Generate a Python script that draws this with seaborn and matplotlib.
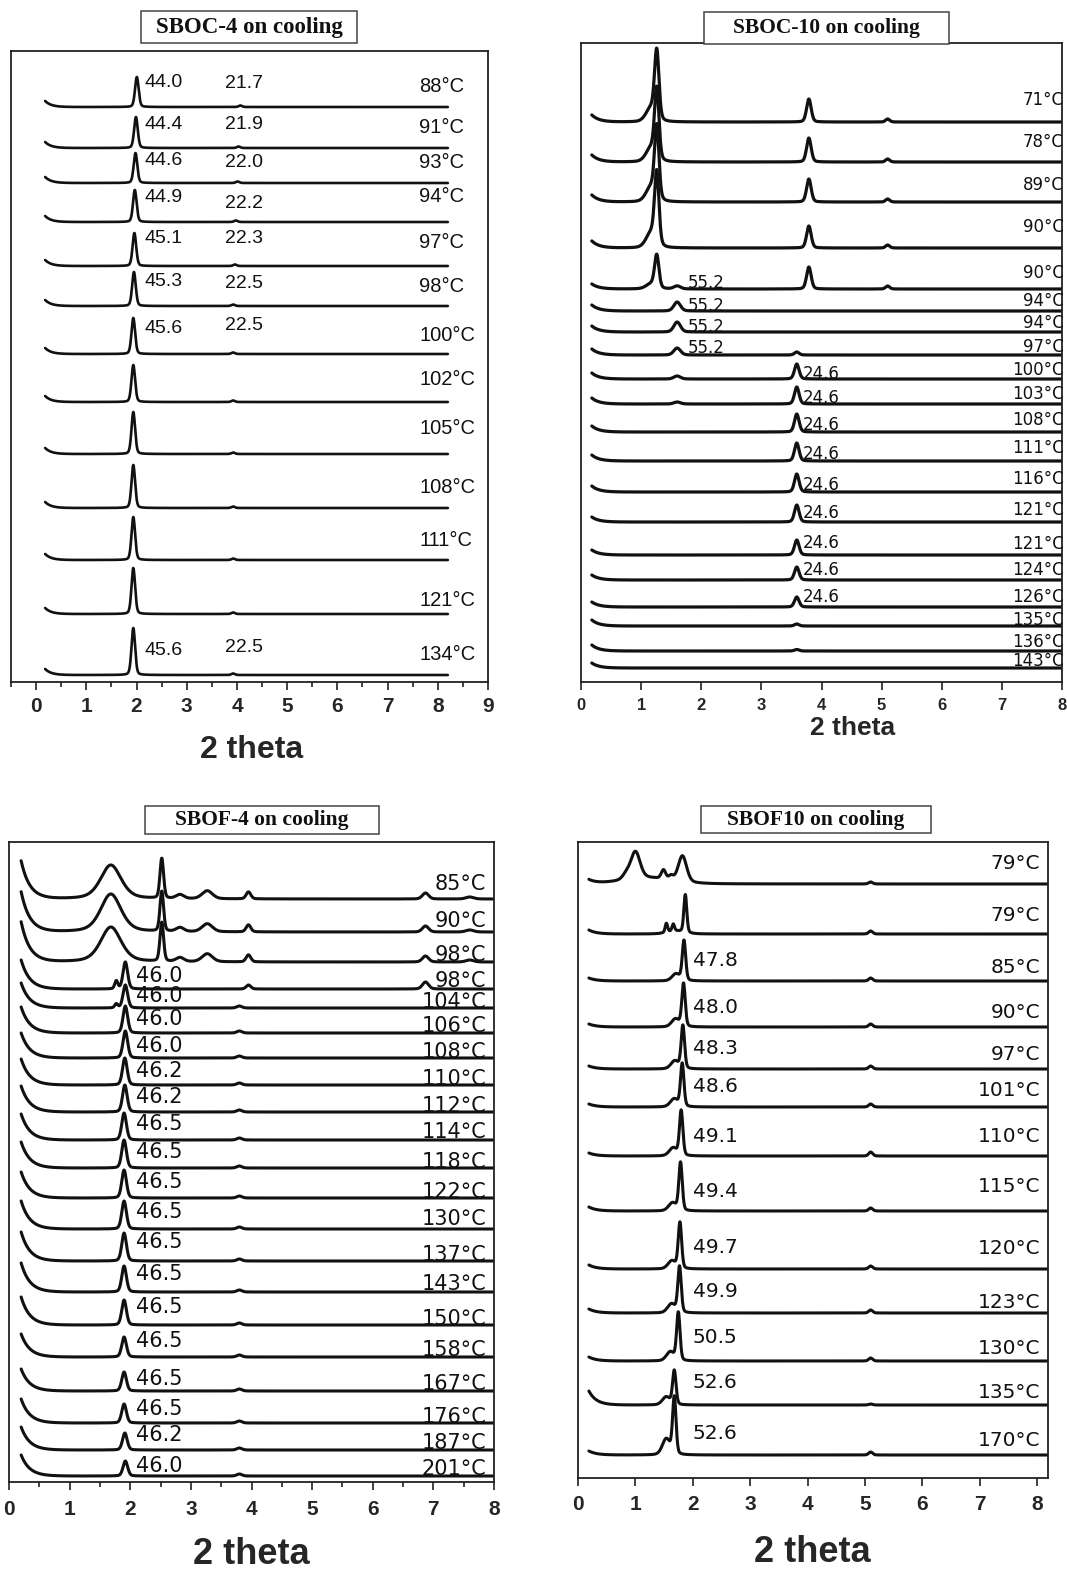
import numpy as np
import pandas as pd
import matplotlib
matplotlib.use("Agg")
import matplotlib.pyplot as plt
from matplotlib.patches import Rectangle
from matplotlib.ticker import MultipleLocator, NullLocator
import seaborn as sns

# ---------------------------------------------------------------- data
CU_KALPHA = 1.5406  # X-ray wavelength, Å

# SBOC-4 on cooling (d-spacings in Å, intensities in arbitrary units)
A_temps = [88, 91, 93, 94, 97, 98, 100, 102, 105, 108, 111, 121, 134]
A_d001 = [44.0, 44.4, 44.6, 44.9, 45.1, 45.3, 45.6, 45.6, 45.6, 45.6, 45.6, 45.6, 45.6]
A_d002 = [21.7, 21.9, 22.0, 22.2, 22.3, 22.5, 22.5, 22.5, 22.5, 22.5, 22.5, 22.5, 22.5]
A_labelled = [1, 1, 1, 1, 1, 1, 1, 0, 0, 0, 0, 0, 1]
A_h001 = [30, 31, 30, 32, 33, 34, 36, 37, 42, 43, 43, 46, 47]
A_h002 = [1.5, 1.5, 1.5, 1.5, 1.5, 1.5, 1.5, 1.5, 1.5, 1.5, 1.5, 1.5, 1.5]
A_up = [6, 6, 6, 6, 6, 6, 6, 6, 6, 6, 6, 6, 6]

# SBOC-10 on cooling
B_temps = [71, 78, 89, 90, 90, 94, 94, 97, 100, 103, 108, 111, 116, 121, 121, 124, 126, 135, 136, 143]
B_lam_2theta = [1.26, 3.79, 5.10]
B_h_lam1 = [66, 68, 70, 70, 32, 0, 0, 0, 0, 0, 0, 0, 0, 0, 0, 0, 0, 0, 0, 0]
B_h_lam1_sh = [14, 14, 15, 15, 5, 0, 0, 0, 0, 0, 0, 0, 0, 0, 0, 0, 0, 0, 0, 0]
B_h_lam2 = [23, 24, 23, 22, 22, 0, 0, 0, 0, 0, 0, 0, 0, 0, 0, 0, 0, 0, 0, 0]
B_h_lam3 = [3, 3, 3, 3, 3, 0, 0, 0, 0, 0, 0, 0, 0, 0, 0, 0, 0, 0, 0, 0]
B_d_col = [55.2, 24.6]
B_h_552 = [0, 0, 0, 0, 3, 9, 10, 7, 3, 2, 0, 0, 0, 0, 0, 0, 0, 0, 0, 0]
B_h_246 = [0, 0, 0, 0, 0, 0, 0, 3, 15, 17, 18, 18, 18, 17, 15, 13, 10, 2, 1.5, 0]
B_show_552 = [0, 0, 0, 0, 1, 1, 1, 1, 0, 0, 0, 0, 0, 0, 0, 0, 0, 0, 0, 0]
B_show_246 = [0, 0, 0, 0, 0, 0, 0, 0, 1, 1, 1, 1, 1, 1, 1, 1, 1, 0, 0, 0]
B_up = [7, 7, 7, 7, 5, 6, 6, 6, 6, 6, 6, 6, 6, 5, 5, 5, 5, 6, 6, 5]

# SBOF-4 on cooling
C_temps = [85, 90, 98, 98, 104, 106, 108, 110, 112, 114, 118, 122, 130, 137, 143, 150, 158, 167, 176, 187, 201]
C_d = [None, None, None, 46.0, 46.0, 46.0, 46.0, 46.2, 46.2, 46.5, 46.5, 46.5, 46.5, 46.5,
       46.5, 46.5, 46.5, 46.5, 46.5, 46.2, 46.0]
C_h_main = [0, 0, 0, 27, 23, 27, 27, 27, 27, 27, 28, 28, 28, 28, 26, 25, 20, 19, 19, 17, 15]
C_h_pre = [0, 0, 0, 8, 4, 0, 0, 0, 0, 0, 0, 0, 0, 0, 0, 0, 0, 0, 0, 0, 0]
C_h_38 = [0, 0, 0, 0, 2, 2, 2, 2, 2, 2, 2, 2, 2, 2, 2, 2, 2, 2, 2, 2, 2]
C_up = [38, 40, 40, 29, 25, 26, 25, 26, 26, 26, 26, 26, 28, 29, 29, 28, 23, 22, 24, 23, 21]
C_cryst_2theta = [1.68, 2.52, 2.82, 3.27, 3.95, 6.87, 7.60]
C_cryst_fwhm = [0.40, 0.07, 0.15, 0.20, 0.09, 0.12, 0.15]
C_cryst_h = [[34, 40, 4, 8, 7, 6, 2],
             [38, 40, 4, 8, 7, 6, 2],
             [35, 39, 4, 8, 7, 6, 2],
             [0, 0, 0, 0, 4, 7, 0]]

# SBOF10 on cooling
D_temps = [79, 79, 85, 90, 97, 101, 110, 115, 120, 123, 130, 135, 170]
D_d = [None, None, 47.8, 48.0, 48.3, 48.6, 49.1, 49.4, 49.7, 49.9, 50.5, 52.6, 52.6]
D_h_main = [0, 0, 40, 43, 43, 43, 45, 48, 46, 46, 48, 34, 57]
D_h_sh = [0, 0, 7, 8, 8, 8, 8, 8, 8, 9, 9, 8, 16]
D_h_51 = [2, 3, 3, 3, 3, 3, 4, 3, 3, 3, 3, 1, 3]
D_up = [4, 4, 3, 3, 3, 3, 3, 4, 4, 4, 4, 14, 4]
D_row0_2theta = [1.20, 0.84, 1.00, 1.49, 1.62, 1.82]
D_row0_h = [6, 5, 27, 9, 4, 26]
D_row0_fwhm = [1.00, 0.15, 0.19, 0.09, 0.09, 0.17]
D_row1_2theta = [1.70, 1.54, 1.66, 1.87]
D_row1_h = [3, 9, 7, 38]
D_row1_fwhm = [0.35, 0.05, 0.05, 0.06]

# ---------------------------------------------------------------- layout (pixels)
FIG_W, FIG_H = 1067, 1570
A_offset = [575, 534, 499, 460, 416, 376, 328, 280, 228, 174, 122, 68, 7]
A_tlift = [15, 15, 15, 20, 18, 14, 13, 17, 20, 15, 14, 8, 15]
A_d1lift = [20, 19, 18, 20, 23, 20, 21, 0, 0, 0, 0, 0, 20]
A_d2lift = [19, 19, 16, 14, 23, 18, 24, 0, 0, 0, 0, 0, 23]
B_offset = [560, 520, 480, 434, 393, 371, 350, 327, 303, 278, 250, 221, 190, 160, 127, 102, 75, 56, 31, 14]
B_tlift = [17, 15, 12, 16, 11, 5, 4, 3, 4, 5, 7, 8, 8, 7, 6, 5, 5, 1, 4, 2]
B_dlift = [0, 0, 0, 0, 1, 0, 0, 2, 0, 1, 2, 2, 2, 4, 7, 5, 5, 0, 0, 0]
C_offset = [583, 550, 520, 493, 474, 449, 424, 397, 370, 342, 314, 284, 253, 221, 190, 157, 125, 91, 59, 32, 6]
C_tlift = [9, 5, 1, 2, 0, 1, 0, 0, 0, 2, 0, 0, 4, 0, 2, 0, 1, 1, 0, 1, 1]
C_dlift = [0, 0, 0, 7, 6, 8, 6, 8, 9, 10, 10, 10, 11, 13, 12, 12, 10, 6, 8, 9, 4]
D_offset = [594, 544, 497, 451, 409, 371, 322, 267, 209, 165, 117, 73, 23]
D_tlift = [15, 13, 8, 9, 9, 11, 14, 19, 15, 5, 7, 7, 9]
D_dlift = [0, 0, 15, 14, 15, 15, 14, 14, 16, 16, 18, 17, 16]


def bragg_2theta(d):
    return float(np.degrees(2.0 * np.arcsin(CU_KALPHA / (2.0 * d))))


def peak(x, center, height, fwhm, eta=0.25):
    u = (x - center) / fwhm
    return height * ((1 - eta) * np.exp(-4 * np.log(2) * u ** 2) + eta / (1 + 4 * u ** 2))


def upturn(x, height, tau):
    return height * np.exp(-(x - x[0]) / tau)


def add_axes_px(fig, left, top, right, bottom):
    return fig.add_axes([left / FIG_W, 1 - bottom / FIG_H,
                         (right - left) / FIG_W, (bottom - top) / FIG_H])


def draw_traces(ax, x, curves, lw):
    frames = [pd.DataFrame({"two_theta": x, "intensity": y, "trace": i})
              for i, y in enumerate(curves)]
    df = pd.concat(frames, ignore_index=True)
    sns.lineplot(data=df, x="two_theta", y="intensity", units="trace",
                 estimator=None, sort=False, color="#111111", linewidth=lw,
                 legend=False, ax=ax)


def style_axes(ax, xlim, height, fs, pad, minor):
    ax.set_xlim(*xlim)
    ax.set_ylim(0, height)
    ax.yaxis.set_major_locator(NullLocator())
    ax.xaxis.set_major_locator(MultipleLocator(1))
    if minor:
        ax.xaxis.set_minor_locator(MultipleLocator(0.5))
    ax.tick_params(axis="x", which="major", direction="out", length=6, width=1.2,
                   color="#222222", pad=pad, labelsize=fs, bottom=True)
    ax.tick_params(axis="x", which="minor", direction="out", length=3.5, width=1.2,
                   color="#222222", bottom=True)
    for lab in ax.get_xticklabels():
        lab.set_fontweight("bold")
        lab.set_family(["Liberation Sans", "DejaVu Sans"])
    for sp in ax.spines.values():
        sp.set_visible(True)
        sp.set_color("#222222")
        sp.set_linewidth(1.3)
    ax.set_ylabel("")
    ax.set_facecolor("white")


def place_xlabel(ax, box, cx, cy, fs):
    left, top, right, bottom = box
    ax.set_xlabel("2 theta", fontsize=fs, fontweight="bold",
                  family=["Liberation Sans", "DejaVu Sans"])
    ax.xaxis.set_label_coords((cx - left) / (right - left), -(cy - bottom) / (bottom - top))
    ax.xaxis.label.set_va("center")


def title_box(fig, x0, y0, x1, y1, text, fs):
    fig.add_artist(Rectangle((x0 / FIG_W, 1 - y1 / FIG_H), (x1 - x0) / FIG_W, (y1 - y0) / FIG_H,
                             transform=fig.transFigure, facecolor="white",
                             edgecolor="#444444", linewidth=1.1, zorder=10))
    fig.text((x0 + x1) / 2 / FIG_W, 1 - (y0 + y1) / 2 / FIG_H, text, ha="center", va="center",
             fontsize=fs, fontweight="bold", family=["Liberation Serif", "DejaVu Serif"],
             color="#111111", zorder=11)


sns.set_theme(style="white")
plt.rcParams["font.family"] = ["Liberation Sans", "DejaVu Sans"]

fig = plt.figure(figsize=(FIG_W / 100, FIG_H / 100), dpi=100)

# ---------------------------------------------------------------- SBOC-4
boxA = (11, 51, 488, 682)
axA = add_axes_px(fig, *boxA)
xA = np.linspace(0.18, 8.2, 1600)
curvesA = []
for i in range(len(A_temps)):
    y = (A_offset[i] + upturn(xA, A_up[i], 0.12)
         + peak(xA, bragg_2theta(A_d001[i]), A_h001[i], 0.085)
         + peak(xA, bragg_2theta(A_d002[i]), A_h002[i], 0.08))
    curvesA.append(y)
draw_traces(axA, xA, curvesA, 1.9)
for i, t in enumerate(A_temps):
    axA.text(7.63, A_offset[i] + A_tlift[i], f"{t}°C", fontsize=14.5, ha="left",
             va="baseline", color="#111111")
    if A_labelled[i]:
        axA.text(2.15, A_offset[i] + A_d1lift[i], f"{A_d001[i]:.1f}", fontsize=14,
                 ha="left", va="baseline", color="#111111")
        axA.text(3.77, A_offset[i] + A_d2lift[i], f"{A_d002[i]:.1f}", fontsize=14,
                 ha="left", va="baseline", color="#111111")
style_axes(axA, (-0.5, 9), boxA[3] - boxA[1], 15, 5, True)
place_xlabel(axA, boxA, 252, 750, 23)
title_box(fig, 141, 11, 357, 43, "SBOC-4 on cooling", 16.5)

# ---------------------------------------------------------------- SBOC-10
boxB = (581, 43, 1062, 682)
axB = add_axes_px(fig, *boxB)
xB = np.linspace(0.18, 8.0, 1600)
curvesB = []
for i in range(len(B_temps)):
    y = (B_offset[i] + upturn(xB, B_up[i], 0.12)
         + peak(xB, B_lam_2theta[0], B_h_lam1[i], 0.085)
         + peak(xB, B_lam_2theta[0] - 0.09, B_h_lam1_sh[i], 0.2)
         + peak(xB, B_lam_2theta[1], B_h_lam2[i], 0.09)
         + peak(xB, B_lam_2theta[2], B_h_lam3[i], 0.08)
         + peak(xB, bragg_2theta(B_d_col[0]), B_h_552[i], 0.13)
         + peak(xB, bragg_2theta(B_d_col[1]), B_h_246[i], 0.09))
    curvesB.append(y)
draw_traces(axB, xB, curvesB, 2.3)
for i, t in enumerate(B_temps):
    axB.text(8.03, B_offset[i] + B_tlift[i], f"{t}°C", fontsize=12, ha="right",
             va="baseline", color="#111111", family=["DejaVu Sans"], clip_on=False)
    if B_show_552[i]:
        axB.text(1.78, B_offset[i] + B_dlift[i], f"{B_d_col[0]:.1f}", fontsize=12,
                 ha="left", va="baseline", color="#111111", family=["DejaVu Sans"])
    if B_show_246[i]:
        axB.text(3.68, B_offset[i] + B_dlift[i], f"{B_d_col[1]:.1f}", fontsize=12,
                 ha="left", va="baseline", color="#111111", family=["DejaVu Sans"])
style_axes(axB, (0, 8), boxB[3] - boxB[1], 12, 5.5, False)
place_xlabel(axB, boxB, 853, 728, 19)
title_box(fig, 704, 12, 949, 44, "SBOC-10 on cooling", 15.5)

# ---------------------------------------------------------------- SBOF-4
boxC = (9, 842, 494, 1482)
axC = add_axes_px(fig, *boxC)
xC = np.linspace(0.2, 8.0, 1600)
curvesC = []
for i in range(len(C_temps)):
    y = C_offset[i] + upturn(xC, C_up[i], 0.14)
    if C_d[i] is not None:
        y = y + peak(xC, bragg_2theta(C_d[i]), C_h_main[i], 0.09)
    y = y + peak(xC, 1.77, C_h_pre[i], 0.06) + peak(xC, 3.8, C_h_38[i], 0.1)
    if i < len(C_cryst_h):
        for c, w, h in zip(C_cryst_2theta, C_cryst_fwhm, C_cryst_h[i]):
            y = y + peak(xC, c, h, w, eta=0.45 if w > 0.3 else 0.25)
    curvesC.append(y)
draw_traces(axC, xC, curvesC, 2.2)
for i, t in enumerate(C_temps):
    axC.text(7.87, C_offset[i] + C_tlift[i], f"{t}°C", fontsize=15, ha="right",
             va="baseline", color="#111111", family=["DejaVu Sans"])
    if C_d[i] is not None:
        axC.text(2.1, C_offset[i] + C_dlift[i], f"{C_d[i]:.1f}", fontsize=15,
                 ha="left", va="baseline", color="#111111", family=["DejaVu Sans"])
style_axes(axC, (0, 8), boxC[3] - boxC[1], 15, 7, True)
place_xlabel(axC, boxC, 251, 1555, 26)
title_box(fig, 145, 806, 379, 834, "SBOF-4 on cooling", 15.5)

# ---------------------------------------------------------------- SBOF10
boxD = (578, 842, 1048, 1478)
axD = add_axes_px(fig, *boxD)
xD = np.linspace(0.19, 8.19, 1600)
curvesD = []
for i in range(len(D_temps)):
    y = D_offset[i] + upturn(xD, D_up[i], 0.13) + peak(xD, 5.1, D_h_51[i], 0.08)
    if D_d[i] is not None:
        pos = bragg_2theta(D_d[i])
        y = y + peak(xD, pos, D_h_main[i], 0.07) + peak(xD, pos - 0.14, D_h_sh[i], 0.16)
    if i == 0:
        for c, h, w in zip(D_row0_2theta, D_row0_h, D_row0_fwhm):
            y = y + peak(xD, c, h, w)
    if i == 1:
        for c, h, w in zip(D_row1_2theta, D_row1_h, D_row1_fwhm):
            y = y + peak(xD, c, h, w)
    curvesD.append(y)
draw_traces(axD, xD, curvesD, 2.2)
for i, t in enumerate(D_temps):
    axD.text(8.05, D_offset[i] + D_tlift[i], f"{t}°C", fontsize=14.5, ha="right",
             va="baseline", color="#111111", family=["DejaVu Sans"])
    if D_d[i] is not None:
        axD.text(2.0, D_offset[i] + D_dlift[i], f"{D_d[i]:.1f}", fontsize=14.5,
                 ha="left", va="baseline", color="#111111", family=["DejaVu Sans"])
style_axes(axD, (0, 8.19), boxD[3] - boxD[1], 15, 6.5, False)
place_xlabel(axD, boxD, 812, 1552, 26)
title_box(fig, 701, 806, 931, 833, "SBOF10 on cooling", 15.5)

fig.savefig("out.png", dpi=100, facecolor="white")
